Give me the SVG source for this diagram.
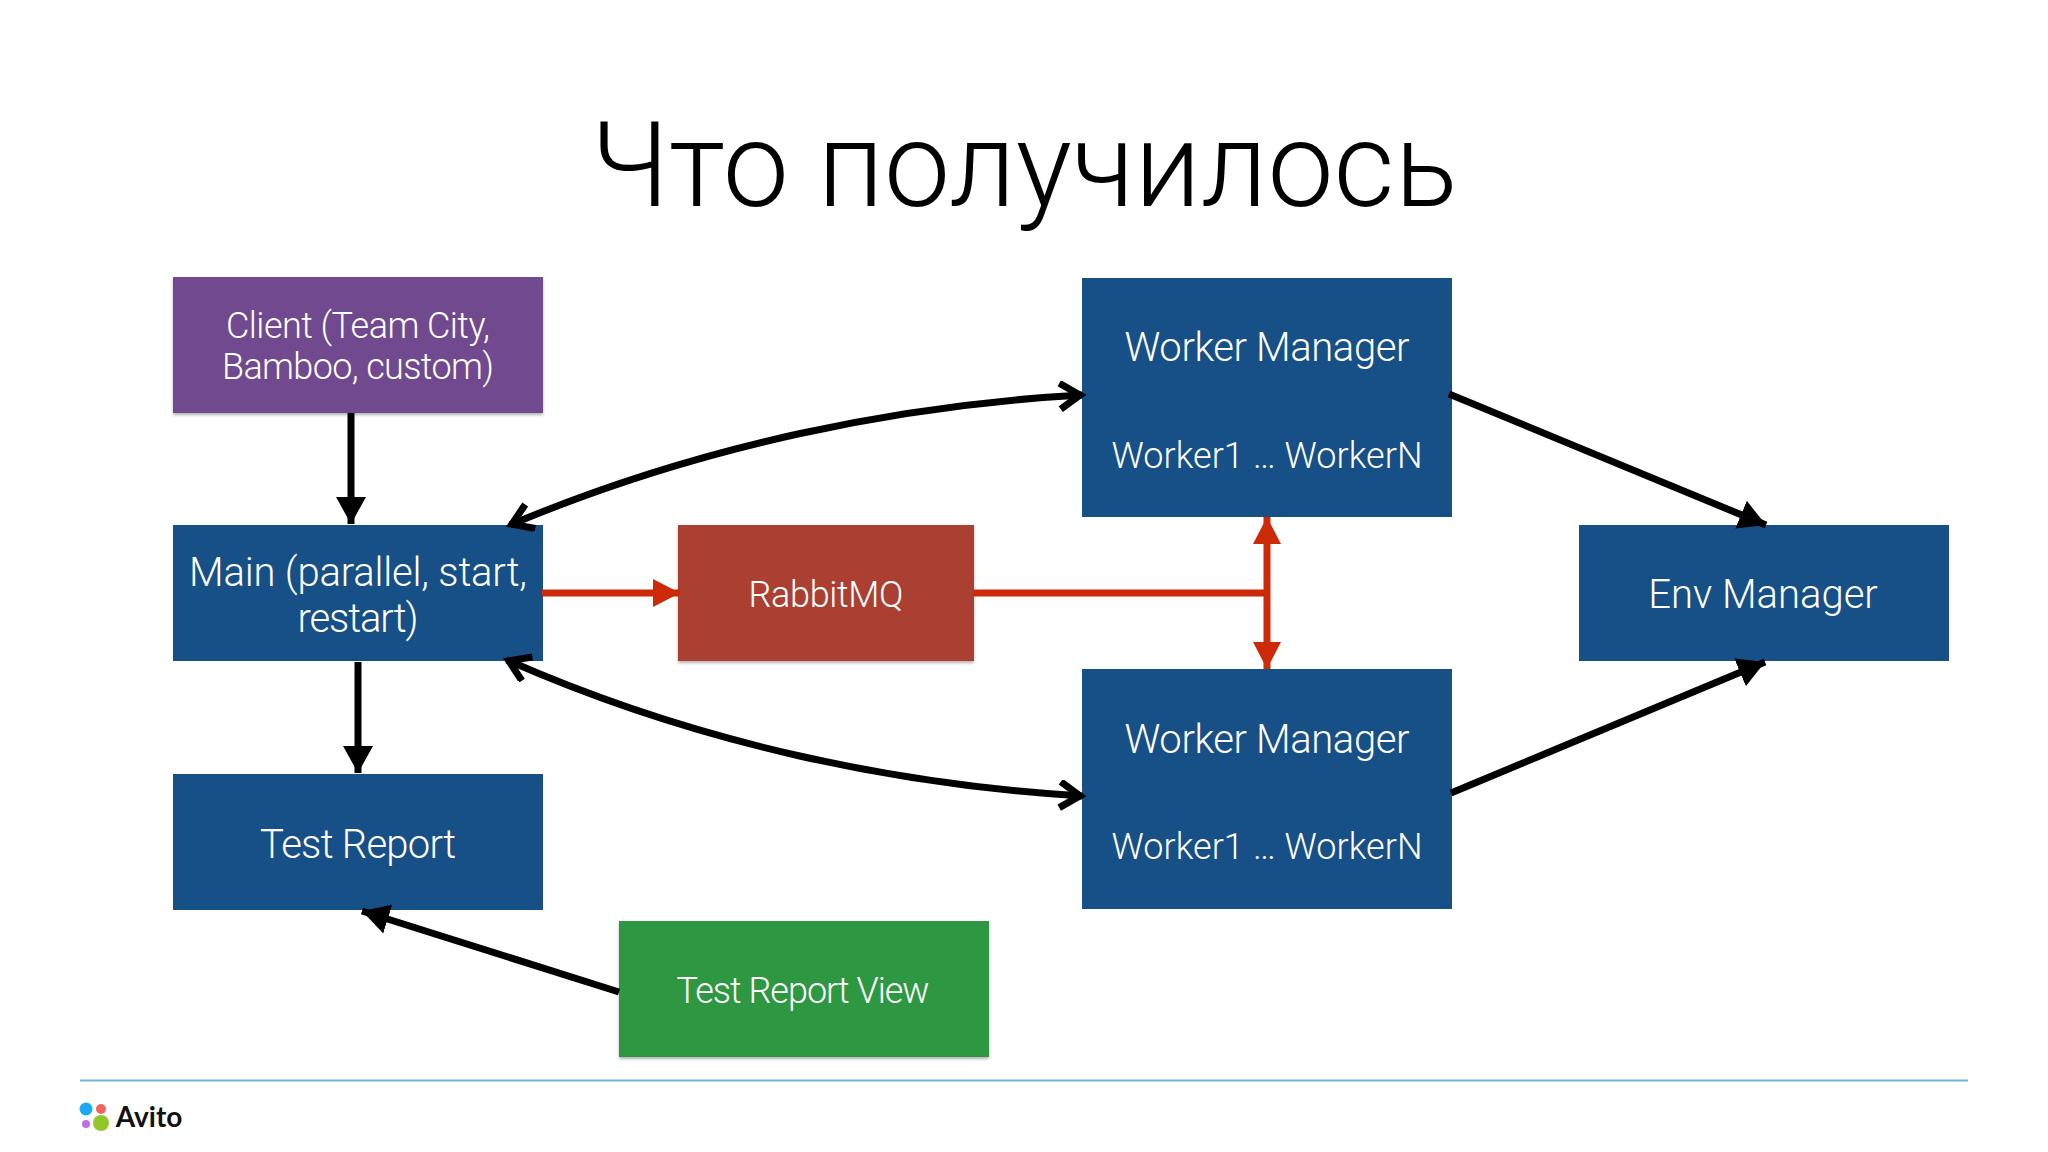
<svg xmlns="http://www.w3.org/2000/svg" width="2048" height="1152" viewBox="0 0 2048 1152">
<style>
text{font-family:Roboto,"Liberation Sans",sans-serif;font-weight:300;fill:#fff;text-anchor:middle}
.b{fill:#174f87}
.t{font-size:40px}
.s{font-size:36px}
.k{fill:none;stroke:#000;stroke-width:7}
.r{fill:none;stroke:#cc2a08;stroke-width:7}
</style>
<defs>
<filter id="sh" x="-5%" y="-5%" width="110%" height="115%"><feDropShadow dx="0" dy="2" stdDeviation="1.5" flood-color="#000" flood-opacity=".3"/></filter>
<marker id="fk" markerUnits="userSpaceOnUse" markerWidth="32" markerHeight="32" refX="27" refY="15" orient="auto"><path d="M0 0L27 15L0 30z" fill="#000"/></marker>
<marker id="ok" markerUnits="userSpaceOnUse" markerWidth="36" markerHeight="36" refX="27" refY="15" orient="auto-start-reverse"><path d="M5 2L25 15L5 28" fill="none" stroke="#000" stroke-width="7"/></marker>
<marker id="fr" markerUnits="userSpaceOnUse" markerWidth="32" markerHeight="32" refX="27" refY="14" orient="auto-start-reverse"><path d="M0 0L27 14L0 28z" fill="#cc2a08"/></marker>
</defs>
<rect width="2048" height="1152" fill="#fff"/>
<text id="title" x="1024" y="206" style="font-size:118px;fill:#000">Что получилось</text>
<g id="client"><rect x="173" y="277" width="370" height="136" fill="#6f4a8e" filter="url(#sh)"/><text class="s" x="358" y="338" textLength="264">Client (Team City,</text><text class="s" x="358" y="379" textLength="272">Bamboo, custom)</text></g>
<g id="main"><rect class="b" x="173" y="525" width="370" height="136"/><text class="t" x="358" y="586" textLength="338">Main (parallel, start,</text><text class="t" x="358" y="632" textLength="121">restart)</text></g>
<g id="test-report"><rect class="b" x="173" y="774" width="370" height="136"/><text class="t" x="358" y="858" textLength="196">Test Report</text></g>
<g id="rabbitmq"><rect x="678" y="525" width="296" height="136" fill="#ab4132" filter="url(#sh)"/><text class="s" x="826" y="607" textLength="155">RabbitMQ</text></g>
<g id="test-report-view"><rect x="619" y="921" width="370" height="136" fill="#2f9743" filter="url(#sh)"/><text class="s" x="803" y="1003" textLength="253">Test Report View</text></g>
<g id="worker-manager-1"><rect class="b" x="1082" y="278" width="370" height="239"/><text class="t" x="1267" y="361" textLength="285">Worker Manager</text><text class="s" x="1267" y="468" textLength="311">Worker1 … WorkerN</text></g>
<g id="worker-manager-2"><rect class="b" x="1082" y="669" width="370" height="240"/><text class="t" x="1267" y="753" textLength="285">Worker Manager</text><text class="s" x="1267" y="859" textLength="311">Worker1 … WorkerN</text></g>
<g id="env-manager"><rect class="b" x="1579" y="525" width="370" height="136"/><text class="t" x="1763" y="608">Env Manager</text></g>
<g id="connectors">
<path class="k" d="M351 413V524" marker-end="url(#fk)"/>
<path class="k" d="M358 662V773" marker-end="url(#fk)"/>
<path class="k" d="M619 992L362 911" marker-end="url(#fk)"/>
<path class="k" d="M1449 394L1766 525" marker-end="url(#fk)"/>
<path class="k" d="M1451 793L1765 662" marker-end="url(#fk)"/>
<path class="k" d="M510 525C700 445 900 405 1082 395" marker-start="url(#ok)" marker-end="url(#ok)"/>
<path class="k" d="M507 660C700 745 900 785 1082 796" marker-start="url(#ok)" marker-end="url(#ok)"/>
<path class="r" d="M542 593H680" marker-end="url(#fr)"/>
<path class="r" d="M974 593H1267"/>
<path class="r" d="M1267 517V669" marker-start="url(#fr)" marker-end="url(#fr)"/>
</g>
<g id="footer">
<path d="M80 1080.500H1968" stroke="#6fb3dc" stroke-width="2"/>
<circle cx="86" cy="1109" r="6.500" fill="#1aa9f5"/><circle cx="101" cy="1109" r="5" fill="#f4645f"/><circle cx="86" cy="1124" r="4" fill="#bf6fe8"/><circle cx="101" cy="1123" r="8" fill="#92c72c"/>
<text x="149" y="1127" style="font-family:Lato,'Liberation Sans',sans-serif;font-weight:700;font-size:28px;fill:#111">Avito</text>
</g>
</svg>
